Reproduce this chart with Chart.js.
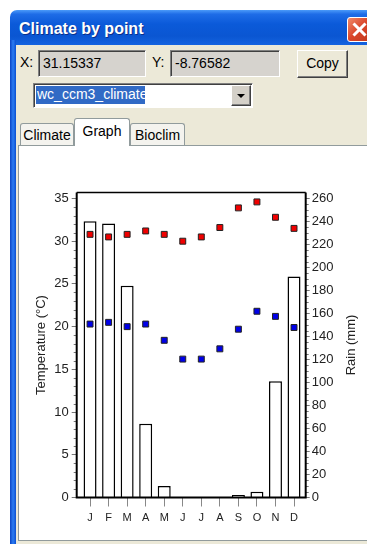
<!DOCTYPE html>
<html>
<head>
<meta charset="utf-8">
<title>Climate by point</title>
<script src="https://cdn.jsdelivr.net/npm/chart.js@4.4.1/dist/chart.umd.min.js"></script>
<style>
body { margin:0; width:367px; height:544px; overflow:hidden; background:#fff; position:relative;
       font-family:"Liberation Sans", Arial, sans-serif; font-size:13px; color:#000; }
.abs { position:absolute; box-sizing:border-box; }
#titlebar { left:10px; top:10px; width:357px; height:35px; border-top-left-radius:7px;
            background:linear-gradient(#4b9af9 0%, #1e6ce7 12%, #0b5ad9 40%, #0a56d2 75%, #1563e0 100%); }
#title { left:19px; top:20px; color:#fff; font-weight:bold; font-size:16px; text-shadow:1px 1px #0a2f8a; }
#close { left:347px; top:17px; width:24px; height:25px; border:1px solid #fff; border-radius:3px;
         background:linear-gradient(135deg,#f08a6a,#d9462a 50%,#c23a1e); }
#close div { position:absolute; left:3px; top:10px; width:17px; height:3px; background:#fff; }
#edge { left:10px; top:40px; width:6px; height:504px; background:linear-gradient(to right,#0842c4,#2c7cf2,#0a4fd0); }
#body { left:16px; top:45px; width:351px; height:499px; background:#ece9d8; }
.lbl { font-size:14px; }
.box { background:#d6d3ce; border:1px solid; border-color:#808080 #fff #fff #808080;
       box-shadow:inset 1px 1px #404040; padding:4px 0 0 4px; font-size:14px; }
#copy { left:297px; top:50px; width:51px; height:28px; background:#ece9d8; border:1px solid;
        border-color:#fff #404040 #404040 #fff; box-shadow:inset -1px -1px #808080;
        text-align:center; line-height:25px; font-size:14px; }
#combo { left:33px; top:83px; width:220px; height:25px; background:#fff; border:1px solid;
         border-color:#808080 #fff #fff #808080; box-shadow:inset 1px 1px #404040; }
#sel { left:36px; top:86px; width:109px; height:18px; background:#316ac5; color:#fff; font-size:14px; line-height:17px; padding-left:1px; }
#drop { left:231px; top:85px; width:20px; height:21px; background:#d4d0c8; border:1px solid;
        border-color:#fff #404040 #404040 #fff; box-shadow:inset -1px -1px #808080; }
#drop div { position:absolute; left:5px; top:8px; width:0; height:0; border-left:4px solid transparent;
            border-right:4px solid transparent; border-top:4px solid #000; }
#panel { left:18px; top:145px; width:360px; height:396px; background:#fff; border:1px solid #919b9c; }
.tab { border:1px solid #919b9c; border-bottom:none; border-radius:3px 3px 0 0; background:#f4f3ee;
       text-align:center; font-size:14px; }
#chartBox { left:20px; top:146px; width:347px; height:393px; }
</style>
</head>
<body>
<div class="abs" id="titlebar"></div>
<div class="abs" id="title">Climate by point</div>
<div class="abs" id="close"><div style="transform:rotate(45deg)"></div><div style="transform:rotate(-45deg)"></div></div>
<div class="abs" id="edge"></div>
<div class="abs" id="body"></div>

<div class="abs lbl" style="left:20px;top:54px;">X:</div>
<div class="abs box" style="left:38px;top:50px;width:108px;height:27px;">31.15337</div>
<div class="abs lbl" style="left:152px;top:54px;">Y:</div>
<div class="abs box" style="left:170px;top:50px;width:110px;height:27px;">-8.76582</div>
<div class="abs" id="copy">Copy</div>

<div class="abs" id="combo"></div>
<div class="abs" id="sel">wc_ccm3_climate</div>
<div class="abs" id="drop"><div></div></div>

<div class="abs tab" style="left:20px;top:123px;width:54px;height:23px;line-height:22px;">Climate</div>
<div class="abs tab" style="left:130px;top:123px;width:55px;height:23px;line-height:22px;">Bioclim</div>
<div class="abs" id="panel"></div>
<div class="abs tab" style="left:74px;top:118px;width:56px;height:28px;line-height:25px;background:#fff;">Graph</div>

<div class="abs" id="chartBox"><canvas id="climateChart" width="347" height="393"></canvas></div>

<script>
// monthly values
const months = ['J', 'F', 'M', 'A', 'M', 'J', 'J', 'A', 'S', 'O', 'N', 'D'];
const rain = [240, 238, 184, 64, 10, 0, 0, 0, 2.2, 5, 101, 192];
const tempMax = [30.8, 30.5, 30.8, 31.2, 30.8, 30.0, 30.5, 31.6, 33.9, 34.6, 32.8, 31.5];
const tempMin = [20.3, 20.5, 20.0, 20.3, 18.4, 16.2, 16.2, 17.4, 19.7, 21.8, 21.2, 19.9];
const tempTicks = [0, 5, 10, 15, 20, 25, 30, 35];
const rainTicks = [0, 20, 40, 60, 80, 100, 120, 140, 160, 180, 200, 220, 240, 260];

function toPoints(values) {
    return values.map((v, i) => ({ x: i, y: v }));
}

// frame, minor ticks and axis titles like the old windows graph
const framePlugin = {
    id: 'frame',
    afterDraw(chart) {
        const ctx = chart.ctx;
        const a = chart.chartArea;
        const yT = chart.scales.y;
        const yR = chart.scales.yRain;
        ctx.save();
        ctx.strokeStyle = '#777';
        ctx.lineWidth = 1;
        ctx.beginPath();
        for (let v = 0; v <= tempTicks[tempTicks.length - 1]; v++) {
            if (v % 5 === 0) continue;
            const py = Math.round(yT.getPixelForValue(v)) + 0.5;
            ctx.moveTo(a.left - 3, py);
            ctx.lineTo(a.left, py);
        }
        for (let v = 0; v <= rainTicks[rainTicks.length - 1]; v += 5) {
            if (v % 20 === 0) continue;
            const py = Math.round(yR.getPixelForValue(v)) + 0.5;
            ctx.moveTo(a.right, py);
            ctx.lineTo(a.right + 3, py);
        }
        ctx.stroke();

        ctx.strokeStyle = '#000';
        ctx.lineWidth = 1.5;
        ctx.beginPath();
        ctx.moveTo(a.left, a.top);
        ctx.lineTo(a.right, a.top);
        ctx.stroke();
        ctx.lineWidth = 2;
        ctx.beginPath();
        ctx.moveTo(a.left, a.top);
        ctx.lineTo(a.left, a.bottom);
        ctx.lineTo(a.right, a.bottom);
        ctx.lineTo(a.right, a.top);
        ctx.stroke();

        ctx.fillStyle = '#222';
        ctx.font = '13px "Liberation Sans", Arial, sans-serif';
        ctx.textAlign = 'center';
        ctx.textBaseline = 'middle';
        const midY = (a.top + a.bottom) / 2;
        ctx.translate(a.left - 35, midY);
        ctx.rotate(-Math.PI / 2);
        ctx.fillText('Temperature (°C)', 0, 0);
        ctx.rotate(Math.PI / 2);
        ctx.translate(a.right + 46 - (a.left - 35), 0);
        ctx.rotate(-Math.PI / 2);
        ctx.fillText('Rain (mm)', 0, 0);
        ctx.restore();
    }
};

const tickFont = { family: '"Liberation Sans", Arial, sans-serif', size: 13 };

const ctx = document.getElementById('climateChart').getContext('2d');
const climateChart = new Chart(ctx, {
    type: 'bar',
    data: {
        datasets: [
            {
                type: 'scatter',
                label: 'Max temperature',
                data: toPoints(tempMax),
                yAxisID: 'y',
                backgroundColor: '#f00000',
                borderColor: '#222',
                borderWidth: 1,
                pointStyle: 'rect',
                pointRadius: 4.2,
                order: 0
            },
            {
                type: 'scatter',
                label: 'Min temperature',
                data: toPoints(tempMin),
                yAxisID: 'y',
                backgroundColor: '#0000e8',
                borderColor: '#222',
                borderWidth: 1,
                pointStyle: 'rect',
                pointRadius: 4.2,
                order: 0
            },
            {
                type: 'bar',
                label: 'Rain',
                data: toPoints(rain),
                yAxisID: 'yRain',
                backgroundColor: '#fff',
                borderColor: '#000',
                borderWidth: 1.5,
                barPercentage: 0.7,
                categoryPercentage: 1,
                order: 1
            }
        ]
    },
    options: {
        responsive: false,
        animation: false,
        layout: { padding: { top: 46.5, left: 0, right: 0, bottom: 0 } },
        plugins: { legend: { display: false }, tooltip: { enabled: false } },
        scales: {
            x: {
                type: 'linear',
                min: -0.72,
                max: 11.63,
                offset: false,
                afterFit: (s) => { s.height = 41.5; },
                grid: { drawOnChartArea: false, tickLength: 9, color: '#888', offset: false },
                border: { display: false },
                ticks: {
                    stepSize: 1,
                    includeBounds: false,
                    padding: 5,
                    color: '#222',
                    font: { family: tickFont.family, size: 11 },
                    maxRotation: 0,
                    autoSkip: false,
                    callback: (v) => months[v] || ''
                }
            },
            y: {
                position: 'left',
                min: 0,
                max: 35.7,
                afterFit: (s) => { s.width = 56.7; },
                grid: { drawOnChartArea: false, tickLength: 5, color: '#777' },
                border: { display: false },
                ticks: { stepSize: 5, includeBounds: false, padding: 3, color: '#222', font: tickFont }
            },
            yRain: {
                position: 'right',
                min: 0,
                max: 265,
                afterFit: (s) => { s.width = 61.3; },
                grid: { drawOnChartArea: false, tickLength: 4, color: '#777' },
                border: { display: false },
                ticks: { stepSize: 20, includeBounds: false, padding: 2, color: '#222', font: tickFont }
            }
        }
    },
    plugins: [framePlugin]
});
</script>
</body>
</html>
